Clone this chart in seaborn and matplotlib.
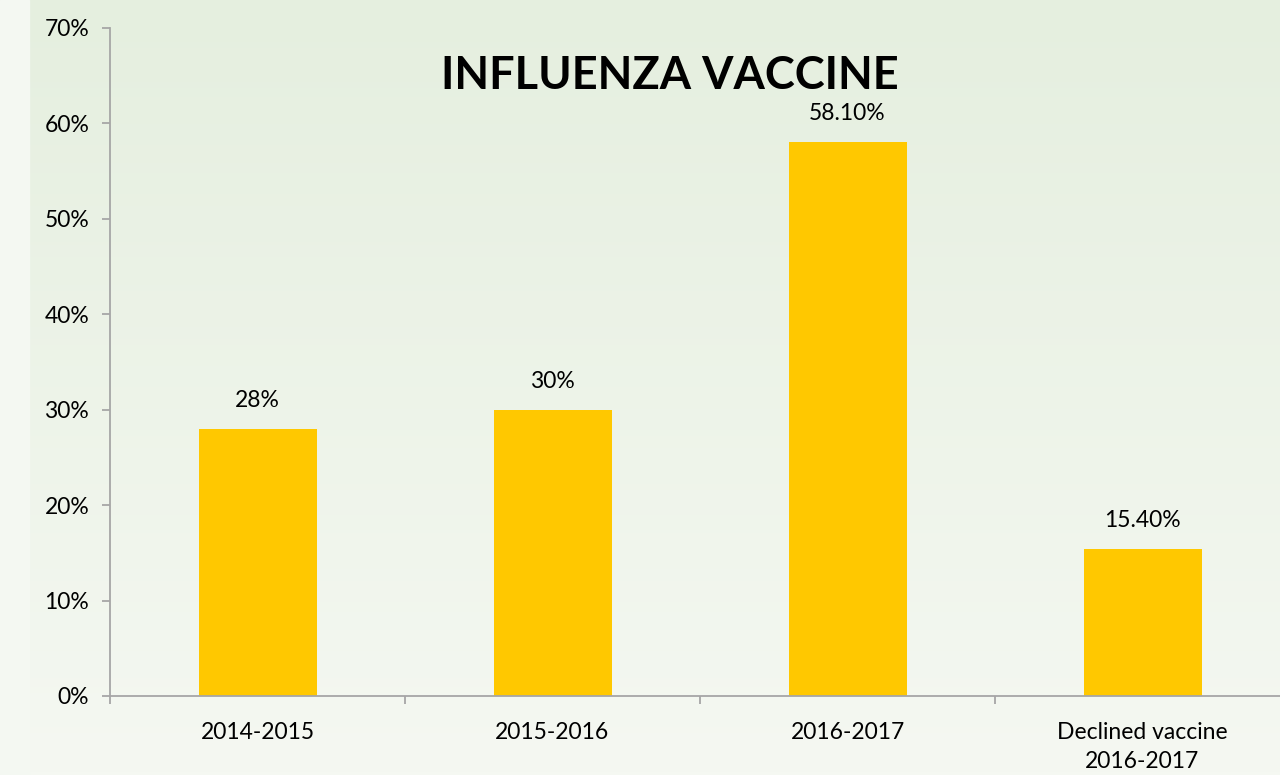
import numpy as np
import pandas as pd
import matplotlib
matplotlib.use("Agg")
import matplotlib.pyplot as plt
from matplotlib.colors import LinearSegmentedColormap
from matplotlib.ticker import PercentFormatter
import seaborn as sns

# -----------------------------
# Data
# -----------------------------
categories = ["2014-2015", "2015-2016", "2016-2017", "Declined vaccine\n2016-2017"]
values = [28.0, 30.0, 58.1, 15.4]
value_labels = ["28%", "30%", "58.10%", "15.40%"]
y_ticks = [0, 10, 20, 30, 40, 50, 60, 70]

BAR_COLOR = "#FFC800"
AXIS_COLOR = "#A6A6A6"

sns.set_theme(style="white")
plt.rcParams["font.family"] = ["Lato", "DejaVu Sans"]

df = pd.DataFrame({"season": categories, "pct": values})

fig = plt.figure(figsize=(12.8, 7.75), dpi=100)

# background gradient
bg = fig.add_axes([0, 0, 1, 1], zorder=-10)
grad = LinearSegmentedColormap.from_list("bg", ["#E5EFDF", "#F5F8F2"])
bg.imshow(np.linspace(0, 1, 256).reshape(-1, 1), aspect="auto", cmap=grad,
          extent=[0, 1, 0, 1], origin="upper")
bg.axvspan(0, 29 / 1280, color="#F4F8F2", zorder=2)
bg.set_xlim(0, 1)
bg.set_ylim(0, 1)
bg.axis("off")

ax = fig.add_axes([110 / 1280, 79 / 775, 1180 / 1280, 668 / 775])
ax.patch.set_alpha(0)

sns.barplot(data=df, x="season", y="pct", color=BAR_COLOR, width=0.4,
            saturation=1, linewidth=0, edgecolor=BAR_COLOR, ax=ax)

ax.set_xlim(-0.5, 3.5)
ax.set_ylim(0, 70)
ax.set_yticks(y_ticks)
ax.yaxis.set_major_formatter(PercentFormatter(decimals=0))
ax.set_xlabel("")
ax.set_ylabel("")

for s in ["top", "right"]:
    ax.spines[s].set_visible(False)
for s in ["left", "bottom"]:
    ax.spines[s].set_color(AXIS_COLOR)
    ax.spines[s].set_linewidth(1.3)

ax.tick_params(axis="y", which="major", direction="out", length=6,
               color=AXIS_COLOR, width=1.3, left=True, labelsize=16.5,
               labelcolor="black", pad=9)
ax.set_xticks(range(len(categories)))
ax.set_xticklabels(categories, linespacing=1.45)
ax.tick_params(axis="x", which="major", length=0, labelsize=16.5,
               labelcolor="black", pad=19)
ax.set_xticks([-0.5, 0.5, 1.5, 2.5], minor=True)
ax.tick_params(axis="x", which="minor", direction="out", length=6,
               color=AXIS_COLOR, width=1.3, bottom=True)

for i, (v, lab) in enumerate(zip(values, value_labels)):
    ax.annotate(lab, (i, v), xytext=(0, 13), textcoords="offset points",
                ha="center", va="bottom", fontsize=16.5, color="black")

fig.text(670 / 1280, 1 - 76 / 775, "INFLUENZA VACCINE", ha="center",
         va="center", fontsize=32.5, fontweight="bold", color="black")

fig.savefig("out.png", dpi=100)
